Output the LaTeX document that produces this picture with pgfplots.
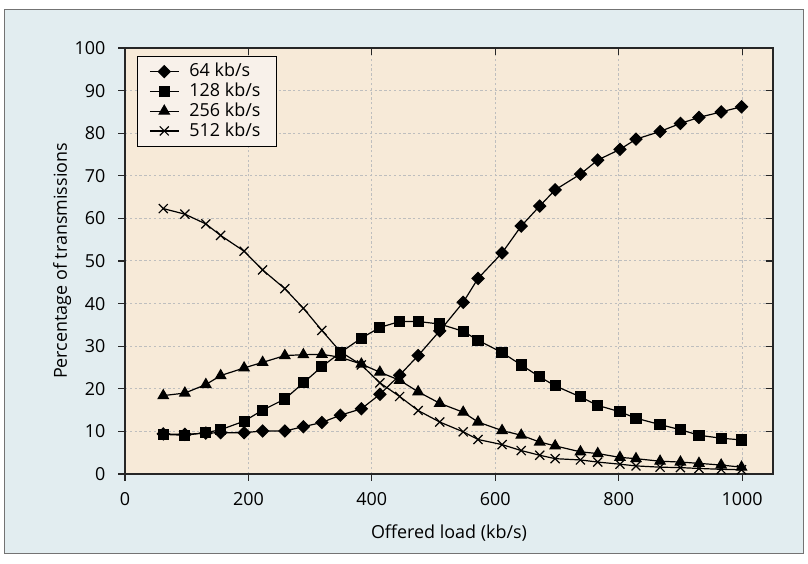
\documentclass[border=0pt]{standalone}
\usepackage{fontspec}
\setmainfont{Open Sans}
\usepackage{pgfplots}
\usepackage{pgfplotstable}
\pgfplotsset{compat=1.18}
\definecolor{framebg}{RGB}{226,237,240}
\definecolor{plotbg}{RGB}{247,234,216}
\definecolor{legbg}{RGB}{248,241,234}
\definecolor{gridc}{RGB}{190,190,190}
\pgfplotstableread{
x a b c d
62 9.4 9.3 18.4 62.3
97 9.3 9.1 19.0 61.0
131 9.6 9.7 21.0 58.7
155 9.7 10.4 23.1 56.0
193 9.7 12.4 24.9 52.3
223 10.1 15.0 26.2 47.9
259 10.1 17.6 27.8 43.5
289 11.1 21.4 28.0 38.9
319 12.1 25.2 28.1 33.7
349 13.8 28.5 27.4 28.7
383 15.3 31.9 25.8 25.6
413 18.7 34.4 23.9 21.4
445 23.2 35.8 22.0 18.2
475 27.8 35.8 19.3 14.9
510 33.6 35.2 16.6 12.2
548 40.3 33.5 14.5 9.9
572 45.9 31.4 12.2 8.1
611 51.9 28.5 10.2 6.9
642 58.2 25.6 9.1 5.5
672 62.9 22.8 7.5 4.4
697 66.7 20.7 6.6 3.6
738 70.4 18.1 5.2 3.3
766 73.7 16.1 4.8 2.8
802 76.2 14.6 3.9 2.3
828 78.6 13.1 3.6 1.9
867 80.4 11.6 3.0 1.6
900 82.3 10.4 2.8 1.5
930 83.7 9.1 2.5 1.3
966 85.0 8.4 2.1 1.1
999 86.2 8.0 1.6 1.0
}\data
\begin{document}
\begin{tikzpicture}
\fill[white] (-62.5bp,-45bp) rectangle (341.5bp,237bp);
\filldraw[fill=framebg, draw=black!55, line width=0.5bp] (-60bp,-39.5bp) rectangle (339bp,232bp);
\begin{axis}[
  at={(0,0)}, anchor=south west, scale only axis,
  width=324bp, height=213bp,
  xmin=0, xmax=1050, ymin=0, ymax=100,
  xtick={0,200,...,1000}, ytick={0,10,...,100},
  tick pos=left, tick align=outside, major tick length=3.3bp,
  grid=major,
  grid style={gridc, dash pattern=on 1.2bp off 1.2bp, line width=0.5bp},
  axis background/.style={fill=plotbg},
  axis line style={black!85, line width=0.8bp},
  tick style={black!85, line width=0.6bp},
  font=\fontsize{9}{10.8}\selectfont,
  /pgf/number format/assume math mode=true,
  /pgf/number format/1000 sep={},
  yticklabel style={xshift=-3bp},
  xticklabel style={yshift=-2.5bp},
  xlabel={Offered load (kb/s)},
  ylabel={Percentage of transmissions},
  xlabel style={at={(axis description cs:0.5,-0.1385)}, anchor=center},
  ylabel style={at={(axis description cs:-0.097,0.5)}, anchor=center},
  legend style={at={(0.018,0.982)}, anchor=north west, draw=black, line width=0.6bp,
    fill=legbg, font=\fontsize{9}{9}\selectfont, row sep=-2.4bp,
    inner xsep=6bp, inner ysep=1.5bp},
  legend cell align=left,
  legend image code/.code={\draw[mark repeat=2,mark phase=2] plot coordinates {(0bp,0bp)(7.2bp,0bp)(14.4bp,0bp)};\path (17.5bp,0bp);},
]
\addplot[black, line width=0.6bp, mark=square*, mark size=2.1bp, mark options={rotate=45, solid}] table[x=x,y=a]{\data};
\addplot[black, line width=0.6bp, mark=square*, mark size=2.5bp, mark options={solid}] table[x=x,y=b]{\data};
\addplot[black, line width=0.6bp, mark=triangle*, mark size=2.9bp, mark options={solid}] table[x=x,y=c]{\data};
\addplot[black, line width=0.6bp, mark=x, mark size=3.2bp, mark options={solid}] table[x=x,y=d]{\data};
\legend{64 kb/s,128 kb/s,256 kb/s,512 kb/s}
\end{axis}
\begin{axis}[
  at={(0,0)}, anchor=south west, scale only axis,
  width=324bp, height=213bp,
  xmin=0, xmax=1050, ymin=0, ymax=100,
  xtick={0,200,...,1000}, ytick={0,10,...,100},
  xticklabels={}, yticklabels={},
  tick pos=right, tick align=inside, major tick length=3.3bp,
  axis line style={draw=none},
  tick style={black!85, line width=0.6bp},
]
\end{axis}
\pgfresetboundingbox
\path (-62.5bp,-45bp) rectangle (341.5bp,237bp);
\end{tikzpicture}
\end{document}
